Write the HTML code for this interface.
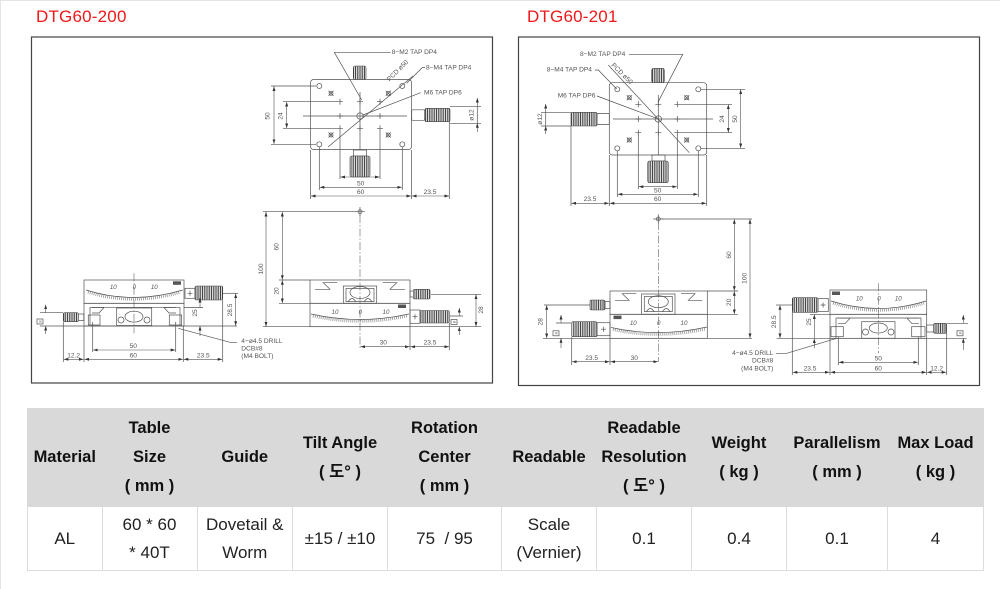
<!DOCTYPE html>
<html><head><meta charset="utf-8"><style>
html,body{margin:0;padding:0;background:#fff;width:1000px;height:589px;overflow:hidden;position:relative;font-family:"Liberation Sans","Noto Sans CJK KR",sans-serif}
.frame{position:absolute;left:0;top:0;width:1000px;height:589px;border-left:1px solid #e4e4e4;border-top:1px solid #e4e4e4;box-sizing:border-box}
.title{position:absolute;top:7px;font-size:17px;line-height:20px;color:#f01818;letter-spacing:0.2px}
svg{position:absolute;left:0;top:0}
.l{fill:none;stroke:#505050;stroke-width:.7}
.c{fill:none;stroke:#606060;stroke-width:.6;stroke-dasharray:8 2 1.5 2}
.d{fill:none;stroke:#505050;stroke-width:.6;marker-start:url(#a);marker-end:url(#a)}
.k{fill:url(#kn);stroke:#444;stroke-width:.6}
.t{font-family:"Liberation Sans",sans-serif;font-size:6.6px;fill:#555}
.s{font-family:"Liberation Sans",sans-serif;font-size:6.2px;fill:#555;font-style:italic}
table{position:absolute;left:27px;top:408px;width:956px;border-collapse:collapse;table-layout:fixed}
th{background:#d9d9d9;border:1px solid #d9d9d9;padding:0;height:97px;font-weight:bold;font-size:16.5px;line-height:29px;color:#111;text-align:center;vertical-align:middle;white-space:nowrap}
td{border:1px solid #dcdcdc;padding:0;height:63px;font-size:17px;line-height:28px;color:#222;text-align:center;vertical-align:middle;white-space:nowrap}
</style></head><body>
<div class="frame"></div>
<div class="title" style="left:36px">DTG60-200</div>
<div class="title" style="left:527px">DTG60-201</div>

<svg width="1000" height="392" viewBox="0 0 1000 392" xmlns="http://www.w3.org/2000/svg">
<defs>
<marker id="a" viewBox="0 0 6 4" refX="6" refY="2" markerWidth="4.5" markerHeight="3" orient="auto-start-reverse" markerUnits="userSpaceOnUse"><path d="M0,0L6,2L0,4z" fill="#333"/></marker>
<pattern id="kn" width="1.8" height="10" patternUnits="userSpaceOnUse"><rect width="1.8" height="10" fill="#fff"/><line x1="0.9" y1="0" x2="0.9" y2="10" stroke="#3a3a3a" stroke-width="0.95"/></pattern>
</defs>

<!-- boxes -->
<rect x="31.5" y="37" width="461" height="346" fill="none" stroke="#444" stroke-width="1.2"/>
<rect x="518.5" y="37" width="461" height="348.5" fill="none" stroke="#444" stroke-width="1.2"/>

<!-- ================= LEFT : TOP VIEW ================= -->
<rect class="l" x="310.5" y="79.5" width="101" height="70" rx="3"/>
<path class="l" d="M303 116H407M360 92V150"/>
<g class="l">
<circle cx="319.3" cy="86" r="2.5"/><circle cx="402.3" cy="86" r="2.5"/><circle cx="319.3" cy="144.3" r="2.5"/><circle cx="402.3" cy="144.3" r="2.5"/>
<circle cx="331" cy="93.3" r="2"/><circle cx="388.3" cy="93.3" r="2"/><circle cx="331" cy="135" r="2"/><circle cx="388.3" cy="135" r="2"/>
<path d="M328.5 90.8l5 5M333.5 90.8l-5 5M385.8 90.8l5 5M390.8 90.8l-5 5M328.5 132.5l5 5M333.5 132.5l-5 5M385.8 132.5l5 5M390.8 132.5l-5 5"/>
<path d="M337 101.7h6M340 98.7v6M357 101.7h6M360 98.7v6M377 101.7h6M380 98.7v6M337 116h6M340 113v6M377 116h6M380 113v6M337 128.3h6M340 125.3v6M357 128.3h6M360 125.3v6M377 128.3h6M380 125.3v6"/>
<circle cx="360" cy="116" r="3.2"/>
<path d="M328 147L413 76"/>
</g>
<rect class="k" x="353.3" y="66" width="12.7" height="13.5" rx="2"/>
<rect class="l" x="353.5" y="150" width="13" height="6"/>
<rect class="k" x="350" y="156" width="20" height="21" rx="2"/>
<rect class="l" x="411.7" y="109.8" width="13" height="10.5" rx="1"/>
<rect class="k" x="425" y="108.3" width="25" height="13.4" rx="1.5"/>
<!-- dims -->
<path class="l" d="M450 106.7H481M450 123.3H481"/>
<path class="d" d="M477.3 98V106.7M477.3 132V123.3"/>
<path class="l" d="M477.3 106.7V123.3"/>
<text class="t" transform="rotate(-90 472 115)" x="472" y="115" text-anchor="middle" dominant-baseline="central">ø12</text>
<path class="l" d="M271 86H316M271 144.3H316M283 101.7H337M283 128.3H337"/>
<path class="d" d="M274 86.5V143.8"/><path class="d" d="M286.7 102V128"/>
<text class="t" transform="rotate(-90 268 116)" x="268" y="116" text-anchor="middle" dominant-baseline="central">50</text>
<text class="t" transform="rotate(-90 281 116)" x="281" y="116" text-anchor="middle" dominant-baseline="central">24</text>
<path class="l" d="M310.5 150V199M411.5 150V199M319.3 147V190M402.3 147V190M340 131V179M380 131V179M449.3 122V199"/>
<path class="d" d="M340.5 177H379.5"/>
<path class="d" d="M319.8 187.3H401.8"/><text class="t" x="360.7" y="183.8" text-anchor="middle" dominant-baseline="central">50</text>
<path class="d" d="M311 196H411"/><text class="t" x="360.7" y="192.5" text-anchor="middle" dominant-baseline="central">60</text>
<path class="d" d="M412 196H449"/><text class="t" x="430" y="192.5" text-anchor="middle" dominant-baseline="central">23.5</text>
<!-- leaders -->
<path class="l" d="M334.3 52.3H390.7M334.3 52.3L361.7 100"/>
<text class="t" x="391.7" y="52.5" dominant-baseline="central">8−M2 TAP DP4</text>
<path class="l" d="M406.7 83.3L422.3 67.5H425"/>
<text class="t" x="426" y="68" dominant-baseline="central">8−M4 TAP DP4</text>
<path class="l" d="M420.7 92.7L363 115"/>
<text class="t" x="424" y="92.8" dominant-baseline="central">M6 TAP DP6</text>
<text class="t" transform="rotate(-45 398 71)" x="398" y="71" text-anchor="middle" dominant-baseline="central">PCD ø50</text>

<!-- ================= LEFT : FRONT VIEW ================= -->
<circle class="l" cx="360" cy="211.7" r="2"/><path class="l" d="M355 211.7H365M360 207V216"/>
<path class="l" d="M263 211.7H356"/>
<path class="c" d="M360 215V350"/>
<path class="d" d="M266 212V326.4"/><path class="d" d="M282.3 212V279.7"/><path class="d" d="M282.3 280.3V303"/>
<path class="l" d="M279 280H310M279 303.3H310"/>
<text class="t" transform="rotate(-90 261.5 269)" x="261.5" y="269" text-anchor="middle" dominant-baseline="central">100</text>
<text class="t" transform="rotate(-90 277 246.7)" x="277" y="246.7" text-anchor="middle" dominant-baseline="central">60</text>
<text class="t" transform="rotate(-90 277 291)" x="277" y="291" text-anchor="middle" dominant-baseline="central">20</text>
<rect class="l" x="310" y="280" width="100" height="23.3"/>
<path class="l" d="M315 289.3H330L323.3 282.7H337.3M405 289.3H390L396.7 282.7H382.7"/>
<rect class="l" x="343.3" y="286" width="33.4" height="17.3"/>
<rect class="l" x="346" y="288.5" width="28" height="13"/>
<ellipse class="l" cx="360" cy="292.5" rx="10" ry="6"/>
<path class="l" d="M348 302Q352 295 356 302M364 302Q368 295 372 302"/>
<rect class="l" x="310" y="303.3" width="100" height="23.4"/>
<path class="l" d="M311 314Q360 325 409 314"/>
<path fill="none" stroke="#555" stroke-width="2.6" stroke-dasharray=".5 1.5" d="M313 316.2Q360 326.5 407 316.2"/>
<text class="s" x="335" y="312.7" text-anchor="middle" dominant-baseline="central">10</text>
<text class="s" x="360.3" y="312.7" text-anchor="middle" dominant-baseline="central">0</text>
<text class="s" x="386" y="312.7" text-anchor="middle" dominant-baseline="central">10</text>
<rect x="398" y="304.5" width="8" height="3.5" fill="#555"/>
<rect class="l" x="410" y="291" width="3.5" height="6"/>
<rect class="k" x="413.3" y="289.3" width="16.7" height="9.7" rx="1.5"/>
<rect class="l" x="410" y="310" width="10" height="13.3"/>
<path class="l" d="M412.5 316.7H417.5M415 314.2V319.2"/>
<rect class="k" x="420" y="310.5" width="29.3" height="12.5" rx="1.5"/>
<path class="l" d="M431 294.3H481M263 326.7H481M450 316H463"/>
<path class="d" d="M476 294.6V326.4"/>
<text class="t" transform="rotate(-90 481.5 310)" x="481.5" y="310" text-anchor="middle" dominant-baseline="central">28</text>
<path class="d" d="M459.3 308V316M459.3 335V326.7"/>
<rect class="l" x="451" y="319.5" width="6" height="5"/>
<text class="t" transform="rotate(-90 454 322)" x="454" y="322" text-anchor="middle" dominant-baseline="central" style="font-size:4px">8</text>
<path class="l" d="M410 327V350M449.3 323V350"/>
<path class="d" d="M360.5 346.7H409.5"/><text class="t" x="383.3" y="343" text-anchor="middle" dominant-baseline="central">30</text>
<path class="d" d="M410.5 346.7H449"/><text class="t" x="430" y="343" text-anchor="middle" dominant-baseline="central">23.5</text>

<!-- ================= LEFT : SIDE VIEW ================= -->
<rect class="l" x="84" y="280" width="100" height="23.3"/>
<path class="l" d="M86 290Q133.3 305 182.7 290"/>
<path fill="none" stroke="#555" stroke-width="2.6" stroke-dasharray=".5 1.5" d="M88 292.3Q133.3 306.5 180.7 292.3"/>
<text class="s" x="113.3" y="287.3" text-anchor="middle" dominant-baseline="central">10</text>
<text class="s" x="134.3" y="287.3" text-anchor="middle" dominant-baseline="central">0</text>
<text class="s" x="154.3" y="287.3" text-anchor="middle" dominant-baseline="central">10</text>
<rect x="173" y="281.3" width="8" height="3.5" fill="#555"/>
<path class="c" d="M134 273.3V333.3"/>
<rect class="l" x="185" y="288.3" width="10" height="10"/>
<path class="l" d="M187.5 293.3H192.5M190 290.8V295.8"/>
<rect class="k" x="195" y="286" width="27.7" height="14" rx="1.5"/>
<rect class="k" x="63.3" y="312.7" width="15" height="9" rx="1.5"/>
<rect class="l" x="78.3" y="314" width="5.5" height="6.5"/>
<rect class="l" x="84" y="303.3" width="100" height="22.7"/>
<path class="l" d="M90 307.3H180M90 307.3V325M180 307.3V325M92 307.5L104 307.5L99 313H92M176 307.5L164 307.5L169 313H176"/>
<rect class="l" x="116.7" y="308" width="35" height="17.5"/>
<ellipse class="l" cx="134" cy="316.7" rx="9" ry="5.5"/>
<circle class="l" cx="121" cy="320" r="3"/><circle class="l" cx="147" cy="320" r="3"/>
<rect class="l" x="88.3" y="315" width="11.7" height="10"/>
<rect class="l" x="169.3" y="315" width="12.3" height="10"/>
<path class="l" d="M184 307.5H203"/>
<path class="d" d="M200 298V307.5M200 336V326"/>
<text class="t" transform="rotate(-90 195.5 313)" x="195.5" y="313" text-anchor="middle" dominant-baseline="central">25</text>
<path class="l" d="M222.7 293.3H238"/>
<path class="d" d="M235.7 293.6V325.7"/>
<text class="t" transform="rotate(-90 230.5 310)" x="230.5" y="310" text-anchor="middle" dominant-baseline="central">28.5</text>
<path class="l" d="M40 312.7H63"/>
<path class="d" d="M45.7 304.7V312.7M45.7 334V326"/>
<rect class="l" x="37" y="319" width="6" height="5"/>
<text class="t" transform="rotate(-90 40 321.5)" x="40" y="321.5" text-anchor="middle" dominant-baseline="central" style="font-size:4px">8</text>
<path class="l" d="M40 326H237"/>
<path class="l" d="M63.3 322V362M84 326V362M92.7 322V352M175.7 322V352M183.3 326V362M222.7 300V362"/>
<path class="d" d="M93.2 350H175.2"/><text class="t" x="133.3" y="346.3" text-anchor="middle" dominant-baseline="central">50</text>
<path class="d" d="M84.5 359.3H182.8"/><text class="t" x="133.3" y="355.8" text-anchor="middle" dominant-baseline="central">60</text>
<path class="d" d="M63.8 359.3H83.5"/><text class="t" x="73.7" y="355.8" text-anchor="middle" dominant-baseline="central">12.2</text>
<path class="d" d="M183.8 359.3H222.2"/><text class="t" x="203.3" y="355.8" text-anchor="middle" dominant-baseline="central">23.5</text>
<path class="l" d="M178.3 328.3L230 342.3H237"/>
<text class="t" x="241.3" y="341.5" dominant-baseline="central">4−ø4.5 DRILL</text>
<text class="t" x="241.3" y="348.8" dominant-baseline="central">DCB#8</text>
<text class="t" x="241.3" y="356.3" dominant-baseline="central">(M4 BOLT)</text>

<!-- ================= RIGHT : TOP VIEW ================= -->
<rect class="l" x="609.3" y="82.7" width="97.4" height="72.3" rx="3"/>
<path class="l" d="M613 119H713M658.3 95V155"/>
<g class="l">
<circle cx="617.3" cy="89.3" r="2.5"/><circle cx="698.3" cy="89.3" r="2.5"/><circle cx="617.3" cy="148.3" r="2.5"/><circle cx="698.3" cy="148.3" r="2.5"/>
<circle cx="629.3" cy="97.7" r="2"/><circle cx="686.7" cy="97.7" r="2"/><circle cx="629.3" cy="140" r="2"/><circle cx="686.7" cy="140" r="2"/>
<path d="M626.8 95.2l5 5M631.8 95.2l-5 5M684.2 95.2l5 5M689.2 95.2l-5 5M626.8 137.5l5 5M631.8 137.5l-5 5M684.2 137.5l5 5M689.2 137.5l-5 5"/>
<path d="M635.3 104.3h6M638.3 101.3v6M655.3 104.3h6M658.3 101.3v6M674.3 104.3h6M677.3 101.3v6M635.3 119h6M638.3 116v6M674.3 119h6M677.3 116v6M635.3 132.7h6M638.3 129.7v6M655.3 132.7h6M658.3 129.7v6M674.3 132.7h6M677.3 129.7v6"/>
<circle cx="658.3" cy="119" r="3.2"/>
<path d="M608.3 65L689.3 152.7"/>
</g>
<rect class="k" x="651.7" y="68.3" width="12.6" height="14.4" rx="2"/>
<rect class="k" x="571" y="112.3" width="26" height="13.7" rx="1.5"/>
<rect class="l" x="597" y="113.5" width="12.3" height="11" rx="1"/>
<rect class="l" x="652" y="155" width="13" height="6"/>
<rect class="k" x="647.7" y="161" width="20.6" height="21.7" rx="2"/>
<path class="l" d="M541 112.3H571M541 126H571"/>
<path class="d" d="M545.7 104V112.3M545.7 134V126"/>
<path class="l" d="M545.7 112.3V126"/>
<text class="t" transform="rotate(-90 540.7 119)" x="540.7" y="119" text-anchor="middle" dominant-baseline="central">ø12</text>
<path class="l" d="M680 104.3H732M680 132.7H732M701 89.3H745M701 148.3H745"/>
<path class="d" d="M728.3 104.6V132.4"/><path class="d" d="M740.7 89.6V148"/>
<text class="t" transform="rotate(-90 722.3 119)" x="722.3" y="119" text-anchor="middle" dominant-baseline="central">24</text>
<text class="t" transform="rotate(-90 735.5 119)" x="735.5" y="119" text-anchor="middle" dominant-baseline="central">50</text>
<path class="l" d="M609.3 155V206M706.7 155V206M617.3 151V197M698.3 151V197M638.3 135V189M677.3 135V189M571 126V206"/>
<path class="d" d="M638.8 186.7H676.8"/>
<path class="d" d="M617.8 194.3H697.8"/><text class="t" x="657.7" y="190.8" text-anchor="middle" dominant-baseline="central">50</text>
<path class="d" d="M609.8 203.3H706.2"/><text class="t" x="657.7" y="199.6" text-anchor="middle" dominant-baseline="central">60</text>
<path class="d" d="M571.5 203.3H608.8"/><text class="t" x="590" y="199.6" text-anchor="middle" dominant-baseline="central">23.5</text>
<path class="l" d="M629 54.3H682.7L658.3 101.7"/>
<text class="t" x="580" y="54.5" dominant-baseline="central">8−M2 TAP DP4</text>
<path class="l" d="M595 70H598.3L616.7 89"/>
<text class="t" x="546.7" y="70" dominant-baseline="central">8−M4 TAP DP4</text>
<path class="l" d="M597 96L656.7 118.3"/>
<text class="t" x="557.7" y="96" dominant-baseline="central">M6 TAP DP6</text>
<text class="t" transform="rotate(45 621.7 74)" x="621.7" y="74" text-anchor="middle" dominant-baseline="central">PCD ø50</text>

<!-- ================= RIGHT : FRONT VIEW ================= -->
<circle class="l" cx="658.3" cy="219" r="2"/><path class="l" d="M653.3 219H663.3M658.3 214.3V223.7"/>
<path class="l" d="M662 219H752"/>
<path class="c" d="M658.3 222V362"/>
<path class="d" d="M734.3 219.3V290.7"/><path class="d" d="M734.3 291.3V314"/><path class="d" d="M750 219.3V338"/>
<path class="l" d="M707 291H738M707 314.3H738"/>
<text class="t" transform="rotate(-90 729.5 255)" x="729.5" y="255" text-anchor="middle" dominant-baseline="central">60</text>
<text class="t" transform="rotate(-90 729.5 302.3)" x="729.5" y="302.3" text-anchor="middle" dominant-baseline="central">20</text>
<text class="t" transform="rotate(-90 745 278.3)" x="745" y="278.3" text-anchor="middle" dominant-baseline="central">100</text>
<rect class="l" x="610" y="291" width="97.3" height="23.3"/>
<path class="l" d="M615 300.3H629L622.3 293.7H636.3M702.3 300.3H688.3L695 293.7H681"/>
<rect class="l" x="641.6" y="294" width="33.4" height="20.3"/>
<rect class="l" x="644.3" y="296.5" width="28" height="15"/>
<ellipse class="l" cx="658.3" cy="301.7" rx="10" ry="6"/>
<path class="l" d="M646.3 312Q650.3 305 654.3 312M662.3 312Q666.3 305 670.3 312"/>
<rect class="l" x="610" y="314.3" width="97.3" height="24"/>
<path class="l" d="M611 327.5Q658.3 338 707 327"/>
<path fill="none" stroke="#555" stroke-width="2.6" stroke-dasharray=".5 1.5" d="M613 329.7Q658.3 339.5 705 329.3"/>
<text class="s" x="633.3" y="323.3" text-anchor="middle" dominant-baseline="central">10</text>
<text class="s" x="658.7" y="323.3" text-anchor="middle" dominant-baseline="central">0</text>
<text class="s" x="684" y="323.3" text-anchor="middle" dominant-baseline="central">10</text>
<rect x="613.5" y="315.6" width="8" height="3.5" fill="#555"/>
<rect class="k" x="590" y="300" width="15" height="10" rx="1.5"/>
<rect class="l" x="605" y="301.5" width="5" height="7"/>
<rect class="k" x="571.7" y="321.7" width="25.3" height="15" rx="1.5"/>
<rect class="l" x="597" y="322.7" width="13" height="13"/>
<path class="l" d="M601 329.2H606M603.5 326.7V331.7"/>
<path class="l" d="M544 305H590M543 338.3H752M556 323H571"/>
<path class="d" d="M546.7 305.3V338"/>
<text class="t" transform="rotate(-90 541 321.7)" x="541" y="321.7" text-anchor="middle" dominant-baseline="central">28</text>
<path class="d" d="M561 315V323M561 348V338.3"/>
<rect class="l" x="553" y="330.8" width="6" height="5"/>
<text class="t" transform="rotate(-90 556 333.3)" x="556" y="333.3" text-anchor="middle" dominant-baseline="central" style="font-size:4px">8</text>
<path class="l" d="M571.7 337V365M610 338V365"/>
<path class="d" d="M572.2 361.7H609.5"/><text class="t" x="591.7" y="358.3" text-anchor="middle" dominant-baseline="central">23.5</text>
<path class="d" d="M610.5 361.7H657.8"/><text class="t" x="634.3" y="358.3" text-anchor="middle" dominant-baseline="central">30</text>

<!-- ================= RIGHT : SIDE VIEW ================= -->
<rect class="l" x="830" y="290" width="96.7" height="24.3"/>
<path class="l" d="M831 301Q878.3 316 926 301"/>
<path fill="none" stroke="#555" stroke-width="2.6" stroke-dasharray=".5 1.5" d="M833 303.3Q878.3 317.5 924 303.3"/>
<text class="s" x="859.3" y="298.8" text-anchor="middle" dominant-baseline="central">10</text>
<text class="s" x="879" y="298.8" text-anchor="middle" dominant-baseline="central">0</text>
<text class="s" x="898.3" y="298.8" text-anchor="middle" dominant-baseline="central">10</text>
<rect x="832" y="291.5" width="8" height="3.5" fill="#555"/>
<rect class="l" x="830" y="314.3" width="96.7" height="24"/>
<path class="l" d="M836 318H921M836 318V338M921 318V338M838 318.2L850 318.2L845 323.7H838M919 318.2L907 318.2L912 323.7H919"/>
<rect class="l" x="861.7" y="321.7" width="33.3" height="16.6"/>
<ellipse class="l" cx="878.3" cy="328" rx="9" ry="5"/>
<circle class="l" cx="865.5" cy="332" r="3"/><circle class="l" cx="891" cy="332" r="3"/>
<rect class="l" x="831" y="326.7" width="12.3" height="10"/>
<rect class="l" x="911.7" y="326.7" width="13.3" height="10"/>
<path class="c" d="M878.3 283.3V353.3"/>
<rect class="k" x="792.3" y="297.7" width="25.7" height="14.6" rx="1.5"/>
<rect class="l" x="818" y="298.5" width="10.3" height="13"/>
<path class="l" d="M820.6 305H825.6M823.1 302.5V307.5"/>
<rect class="l" x="926.7" y="325" width="7" height="7"/>
<rect class="k" x="933.7" y="323.3" width="13" height="10" rx="1.5"/>
<path class="l" d="M776 305H792"/>
<path class="d" d="M780 305.3V338"/>
<text class="t" transform="rotate(-90 774.5 321.7)" x="774.5" y="321.7" text-anchor="middle" dominant-baseline="central">28.5</text>
<path class="l" d="M810 314.3H830"/>
<path class="d" d="M814.3 314.6V338M814.3 348.3V338.6"/>
<text class="t" transform="rotate(-90 809.5 322)" x="809.5" y="322" text-anchor="middle" dominant-baseline="central">25</text>
<path class="l" d="M947 323.3H968"/>
<path class="d" d="M963.3 315V323.3M963.3 350V338.3"/>
<rect class="l" x="957" y="330.8" width="6" height="5"/>
<text class="t" transform="rotate(-90 960 333.3)" x="960" y="333.3" text-anchor="middle" dominant-baseline="central" style="font-size:4px">8</text>
<path class="l" d="M776.7 338.3H966.7"/>
<path class="l" d="M792.3 312V375M830 338V375M838.3 337V365M918.3 337V365M926.7 338V375M946.7 333V375"/>
<path class="d" d="M838.8 362.3H917.8"/><text class="t" x="878.3" y="359" text-anchor="middle" dominant-baseline="central">50</text>
<path class="d" d="M830.5 372.3H926.2"/><text class="t" x="878.3" y="369" text-anchor="middle" dominant-baseline="central">60</text>
<path class="d" d="M792.8 372.3H829.5"/><text class="t" x="810" y="369" text-anchor="middle" dominant-baseline="central">23.5</text>
<path class="d" d="M927.2 372.3H946.2"/><text class="t" x="936.7" y="369" text-anchor="middle" dominant-baseline="central">12.2</text>
<path class="l" d="M776 353.3H786.7L836.7 338.3"/>
<text class="t" x="773.3" y="353.3" text-anchor="end" dominant-baseline="central">4−ø4.5 DRILL</text>
<text class="t" x="773.3" y="361" text-anchor="end" dominant-baseline="central">DCB#8</text>
<text class="t" x="773.3" y="369" text-anchor="end" dominant-baseline="central">(M4 BOLT)</text>
</svg>

<table>
<colgroup>
<col style="width:74.5px"><col style="width:95px"><col style="width:95.5px"><col style="width:95px"><col style="width:114px"><col style="width:95px"><col style="width:95px"><col style="width:95px"><col style="width:101px"><col style="width:96px">
</colgroup>
<tr>
<th>Material</th>
<th>Table<br>Size<br>( mm )</th>
<th>Guide</th>
<th>Tilt Angle<br>( 도° )</th>
<th>Rotation<br>Center<br>( mm )</th>
<th>Readable</th>
<th>Readable<br>Resolution<br>( 도° )</th>
<th>Weight<br>( kg )</th>
<th>Parallelism<br>( mm )</th>
<th>Max Load<br>( kg )</th>
</tr>
<tr>
<td>AL</td>
<td>60 * 60<br>* 40T</td>
<td>Dovetail &amp;<br>Worm</td>
<td>±15 / ±10</td>
<td>75 &nbsp;/ 95</td>
<td>Scale<br>(Vernier)</td>
<td>0.1</td>
<td>0.4</td>
<td>0.1</td>
<td>4</td>
</tr>
</table>
</body></html>
